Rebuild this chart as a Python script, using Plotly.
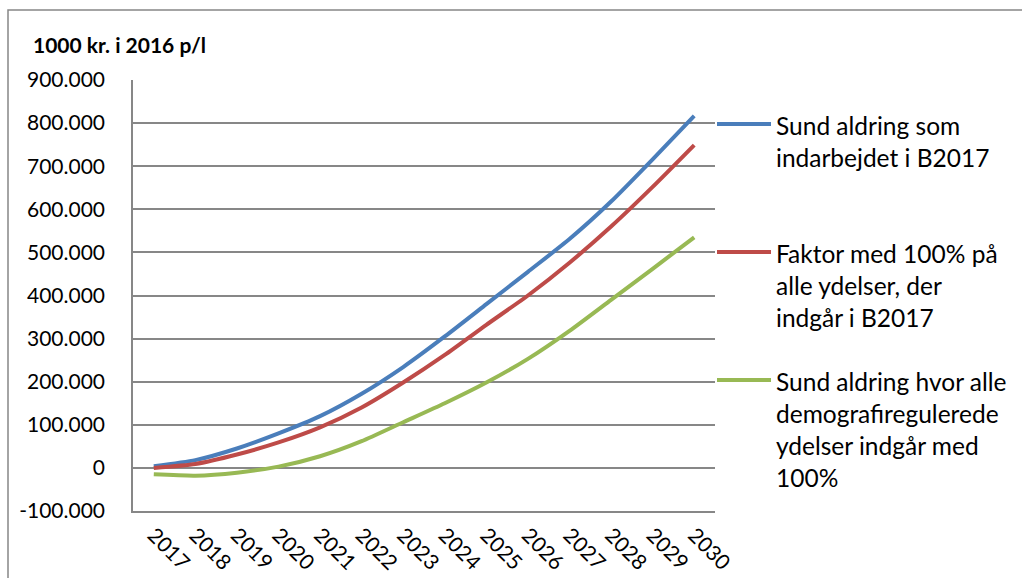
import plotly.graph_objects as go

# Years on the category axis
years = ["2017", "2018", "2019", "2020", "2021", "2022", "2023",
         "2024", "2025", "2026", "2027", "2028", "2029", "2030"]

# Series values (1000 kr. i 2016 p/l)
sund_aldring_b2017 = [4000, 18000, 45000, 80000, 120000, 172000, 234000,
                      305000, 380000, 455000, 531000, 618000, 716000, 817000]
faktor_100 = [0, 9000, 31000, 59000, 94000, 140000, 198000,
              262000, 332000, 400000, 476000, 560000, 652000, 749000]
sund_aldring_alle = [-15000, -18000, -11000, 3000, 27000, 62000, 106000,
                     150000, 198000, 253000, 318000, 390000, 462000, 535000]

series_names = [
    "Sund aldring som\nindarbejdet i B2017",
    "Faktor med 100% på\nalle ydelser, der\nindgår i B2017",
    "Sund aldring hvor alle\ndemografiregulerede\nydelser indgår med\n100%",
]
series_values = [sund_aldring_b2017, faktor_100, sund_aldring_alle]
series_colors = ["#4A7EBB", "#BE4B48", "#98B954"]

y_tick_vals = [-100000, 0, 100000, 200000, 300000, 400000,
               500000, 600000, 700000, 800000, 900000]
y_tick_text = ["-100.000", "0", "100.000", "200.000", "300.000", "400.000",
               "500.000", "600.000", "700.000", "800.000", "900.000"]

axis_title = "1000 kr. i 2016 p/l"

W, H = 1022, 578
L, R, T, B = 133, 307, 80, 67
FONT = "Lato"
GRID = "#878787"


def px_x(x):
    return (x - L) / (W - L - R)


def px_y(y):
    return (H - B - y) / (H - T - B)


fig = go.Figure()
for name, vals, col in zip(series_names, series_values, series_colors):
    fig.add_trace(go.Scatter(
        x=years, y=vals, mode="lines", name=name.replace("\n", " "),
        line=dict(color=col, width=4, shape="spline", smoothing=0.6),
        showlegend=False, cliponaxis=False,
    ))

# Legend drawn beside the plot: a line sample plus wrapped text lines
legend_first_line = [124, 252, 380]
line_step = 32.3
for name, col, y0 in zip(series_names, series_colors, legend_first_line):
    fig.add_shape(type="line", xref="paper", yref="paper",
                  x0=px_x(717), x1=px_x(771), y0=px_y(y0), y1=px_y(y0),
                  line=dict(color=col, width=4))
    for i, txt in enumerate(name.split("\n")):
        fig.add_annotation(
            xref="paper", yref="paper", x=px_x(774), y=px_y(y0 + 1 + i * line_step),
            text=txt, showarrow=False, xanchor="left", yanchor="middle",
            font=dict(family=FONT, size=24.5, color="#000000"),
        )

# Axis unit label above the value axis
fig.add_annotation(
    xref="paper", yref="paper", x=px_x(31), y=px_y(45),
    text="<b>" + axis_title + "</b>", showarrow=False,
    xanchor="left", yanchor="middle",
    font=dict(family=FONT, size=21, color="#000000"),
)

# Outer chart border
fig.add_shape(type="rect", xref="paper", yref="paper",
              x0=px_x(8), x1=px_x(1030), y0=px_y(600), y1=px_y(10),
              line=dict(color=GRID, width=1.5), layer="below")

fig.update_layout(
    width=W, height=H,
    margin=dict(l=L, r=R, t=T, b=B, pad=0, autoexpand=False),
    paper_bgcolor="white", plot_bgcolor="white",
    font=dict(family=FONT, size=21, color="#000000"),
    showlegend=False,
)
fig.update_xaxes(
    type="category", range=[-0.5, 13.5], tickangle=45, automargin=False,
    showgrid=False, showline=True, linecolor=GRID, linewidth=1.5,
    ticks="", ticklabelstandoff=2,
    tickfont=dict(family=FONT, size=21, color="#000000"),
)
fig.update_yaxes(
    range=[-100000, 900000], tickvals=y_tick_vals, ticktext=y_tick_text,
    automargin=False,
    showgrid=True, gridcolor=GRID, gridwidth=1.5, zeroline=False,
    showline=True, linecolor=GRID, linewidth=1.5,
    ticks="", ticklabelstandoff=22,
    tickfont=dict(family=FONT, size=21, color="#000000"),
)

fig.write_html("out.html")
